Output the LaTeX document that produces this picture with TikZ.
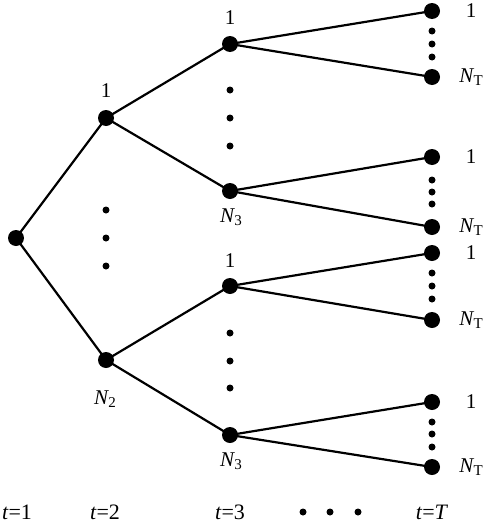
\documentclass[tikz,border=0pt]{standalone}
\usepackage{fontspec}
\setmainfont{Liberation Serif}
\newcommand{\Nsub}[1]{{\itshape N}\kern0.3pt\raisebox{-0.3ex}{\fontsize{15pt}{15pt}\selectfont #1}}
\begin{document}
\begin{tikzpicture}[x=1pt,y=-1pt,
  vtx/.style={circle,fill=black,inner sep=0pt,minimum size=16pt},
  smalldot/.style={circle,fill=black,inner sep=0pt,minimum size=7pt},
  edge/.style={line width=2.2pt},
  lbl/.style={font=\fontsize{21pt}{24pt}\selectfont,inner sep=0pt},
  tlbl/.style={font=\fontsize{22pt}{24pt}\selectfont,inner sep=0pt,anchor=base}]
\useasboundingbox (0,0) rectangle (484,525);
% nodes
\node[vtx] (r) at (16,238) {};
\node[vtx] (a1) at (106,118) {};
\node[vtx] (a2) at (106,360) {};
\node[vtx] (b1) at (230,44) {};
\node[vtx] (b2) at (230,191) {};
\node[vtx] (b3) at (230,286) {};
\node[vtx] (b4) at (230,435) {};
\node[vtx] (c1) at (432,11) {};
\node[vtx] (c2) at (432,77) {};
\node[vtx] (c3) at (432,157) {};
\node[vtx] (c4) at (432,227) {};
\node[vtx] (c5) at (432,253) {};
\node[vtx] (c6) at (432,320) {};
\node[vtx] (c7) at (432,402) {};
\node[vtx] (c8) at (432,467) {};
% edges
\draw[edge] (a1.center) -- (r.center) -- (a2.center);
\draw[edge] (b1.center) -- (a1.center) -- (b2.center);
\draw[edge] (b3.center) -- (a2.center) -- (b4.center);
\draw[edge] (c1.center) -- (b1.center) -- (c2.center);
\draw[edge] (c3.center) -- (b2.center) -- (c4.center);
\draw[edge] (c5.center) -- (b3.center) -- (c6.center);
\draw[edge] (c7.center) -- (b4.center) -- (c8.center);
% vertical dots
\foreach \y [count=\i] in {210,238,266} \node[smalldot] (da\i) at (106,\y) {};
\foreach \y [count=\i] in {90,118,146} \node[smalldot] (db\i) at (230,\y) {};
\foreach \y [count=\i] in {333,361,388} \node[smalldot] (dc\i) at (230,\y) {};
\foreach \y [count=\i] in {31,44,57} \node[smalldot] (dd\i) at (432,\y) {};
\foreach \y [count=\i] in {180,192,204} \node[smalldot] (de\i) at (432,\y) {};
\foreach \y [count=\i] in {273,286,299} \node[smalldot] (df\i) at (432,\y) {};
\foreach \y [count=\i] in {422,434,447} \node[smalldot] (dg\i) at (432,\y) {};
% labels
\node[lbl] (la1) at (106,91) {1};
\node[lbl] (la2) at (105,399) {\Nsub{2}};
\node[lbl] (lb1) at (230,18) {1};
\node[lbl] (lb2) at (231,217) {\Nsub{3}};
\node[lbl] (lb3) at (230,261) {1};
\node[lbl] (lb4) at (231,461) {\Nsub{3}};
\foreach \n/\y in {1/11,3/157,5/253,7/402} \node[lbl] (lc\n) at (471,\y) {1};
\foreach \n/\y in {2/77,4/227,6/320,8/467} \node[lbl] (lc\n) at (471,\y) {\Nsub{T}};
% time axis
\node[tlbl] (t1) at (17,519) {\textit{t}=1};
\node[tlbl] (t2) at (105,519) {\textit{t}=2};
\node[tlbl] (t3) at (230,519) {\textit{t}=3};
\node[tlbl] (tT) at (432,519) {\textit{t}=\textit{T}};
\foreach \x [count=\i] in {303,330,358} \node[smalldot] (dt\i) at (\x,512) {};
\end{tikzpicture}
\end{document}
